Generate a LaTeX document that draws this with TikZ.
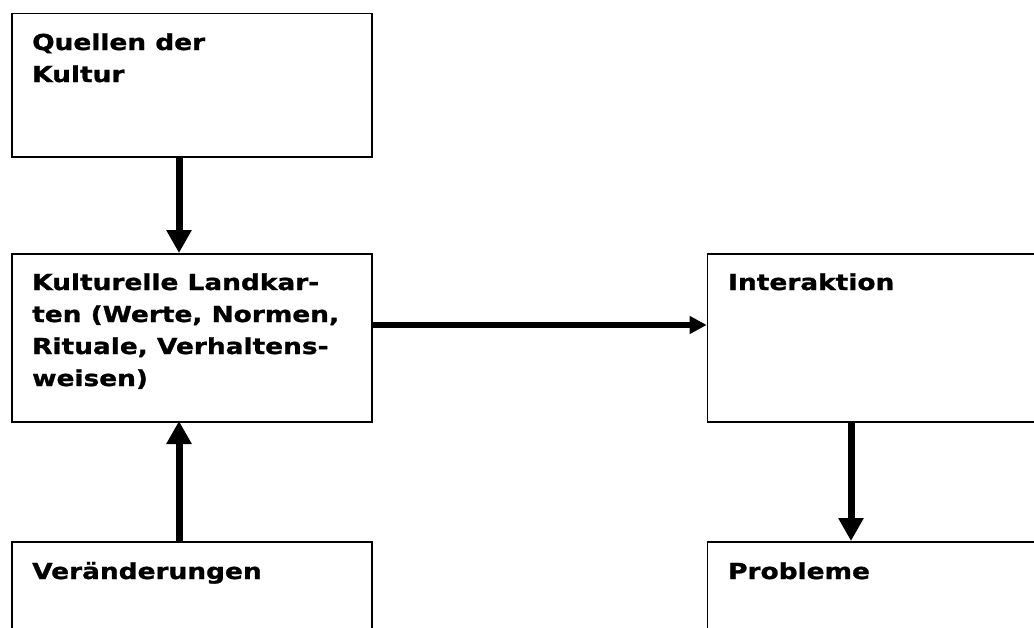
\documentclass[tikz,border=0pt]{standalone}
\usepackage{fontspec}
\setmainfont[FakeStretch=1.2,BoldFeatures={FakeBold=1.2}]{DejaVu Sans}
\usetikzlibrary{arrows.meta}
\begin{document}
\begin{tikzpicture}[x=1pt,y=-1pt,
  box/.style={draw=black, line width=1.5pt, rectangle, inner sep=0pt, anchor=north west},
  lbl/.style={anchor=base west, inner sep=0pt, font=\fontsize{22}{32}\selectfont\bfseries},
  varrow/.style={line width=7pt, -{Triangle[length=23pt,width=24pt]}},
  harrow/.style={line width=6.5pt, -{Triangle[length=17pt,width=17pt]}}]
\clip (0,0) rectangle (1034,627);
\useasboundingbox (0,0) rectangle (1034,627);
\fill[white] (0,0) rectangle (1034,627);

\node[box, minimum width=360pt, minimum height=143.3pt] (quellen) at (11,12.7) {};
\node[box, minimum width=360pt, minimum height=168pt] (karten) at (11,253) {};
\node[box, minimum width=340pt, minimum height=168pt] (inter) at (706.7,253) {};
\node[box, minimum width=360pt, minimum height=120pt] (veraend) at (11,541) {};
\node[box, minimum width=340pt, minimum height=120pt] (probl) at (706.7,541) {};

\node[lbl] (tq) at (32,50) {\begin{tabular}[t]{@{}l@{}}Quellen der\\Kultur\end{tabular}};
\node[lbl] (tk) at (32,290) {\begin{tabular}[t]{@{}l@{}}Kulturelle Landkar-\\ten (Werte, Normen,\\Rituale, Verhaltens-\\weisen)\end{tabular}};
\node[lbl] (ti) at (728,290) {Interaktion};
\node[lbl] (tv) at (32,579) {Veränderungen};
\node[lbl] (tp) at (728,579) {Probleme};

\coordinate (qa) at (179,156);
\coordinate (ka) at (179,253);
\coordinate (kb) at (179,421);
\coordinate (va) at (179,541);
\coordinate (ia) at (851,421);
\coordinate (pa) at (851,541);
\coordinate (kr) at (371,325);
\coordinate (il) at (706.7,325);

\draw[varrow] (qa) -- (ka);
\draw[varrow] (va) -- (kb);
\draw[varrow] (ia) -- (pa);
\draw[harrow] (kr) -- (il);
\end{tikzpicture}
\end{document}
